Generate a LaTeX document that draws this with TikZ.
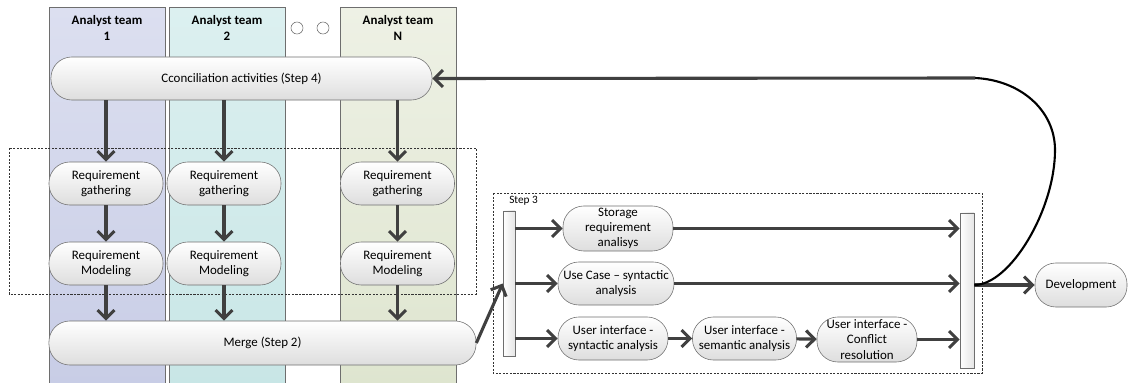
\documentclass[tikz,border=0pt]{standalone}
\usepackage{fontspec}
\setmainfont{Carlito}
\usepackage{tikz}
\usetikzlibrary{arrows,arrows.meta,shapes,positioning}
\usepackage{xcolor}
\definecolor{arrgray}{RGB}{64,64,64}
\definecolor{edgegray}{RGB}{110,110,110}
\definecolor{laneAtop}{RGB}{220,223,240}
\definecolor{laneAbot}{RGB}{200,205,230}
\definecolor{laneBtop}{RGB}{220,240,240}
\definecolor{laneBbot}{RGB}{200,230,230}
\definecolor{laneNtop}{RGB}{238,241,229}
\definecolor{laneNbot}{RGB}{222,229,207}
\newcommand{\nodefont}{\fontsize{9.2pt}{10.8pt}\selectfont}
\tikzstyle{arrow} = [line width=2.2pt,-{Straight Barb[length=6pt,width=12pt]},color=arrgray]
\tikzstyle{feedback} = [line width=1.5pt,color=black]
\tikzstyle{lane} = [draw=edgegray, thin]
\tikzstyle{lanehead} = [align=center, font=\nodefont\bfseries]
\tikzstyle{actbox} = [rectangle, rounded corners=0.52cm, draw=edgegray, thin, top color=white, bottom color=black!13, minimum height=1.075cm, inner xsep=0pt, inner ysep=0pt, align=center, font=\nodefont]
\tikzstyle{syncbar} = [rectangle, draw=edgegray, thin, left color=white, right color=black!10, inner sep=0pt]
\tikzstyle{groupbox} = [draw=black!80, thin, dash pattern=on 1.5pt off 1pt]

\begin{document}
\begin{tikzpicture}[x=0.025cm,y=-0.025cm]
\useasboundingbox (0,0) rectangle (1129,382);

% Analyst team lanes
\draw[lane, top color=laneAtop, bottom color=laneAbot] (49,7) rectangle (165,386);
\draw[lane, top color=laneBtop, bottom color=laneBbot] (169,7) rectangle (285,386);
\draw[lane, top color=laneNtop, bottom color=laneNbot] (340,7) rectangle (456,386);
\node[lanehead] (head1) at (107,28) {Analyst team\\1};
\node[lanehead] (head2) at (227,28) {Analyst team\\2};
\node[lanehead] (headN) at (398,28) {Analyst team\\N};
\node[circle, draw=edgegray, fill=white, minimum size=0.3cm, inner sep=0pt] (dot1) at (297,28) {};
\node[circle, draw=edgegray, fill=white, minimum size=0.3cm, inner sep=0pt] (dot2) at (323,28) {};

% Dashed groups
\draw[groupbox] (9,148) rectangle (476,294);
\draw[groupbox] (493,193) rectangle (982,373);
\node[anchor=west, font=\fontsize{8pt}{9pt}\selectfont, inner sep=0pt] (step3) at (509,201) {Step 3};

% Conciliation
\node[actbox, minimum width=9.525cm] (concil) at (241.5,78.5) {Cconciliation activities (Step 4)};

% Requirement gathering and modeling
\node[actbox, minimum width=2.85cm] (gath1) at (106,183.5) {Requirement\\gathering};
\node[actbox, minimum width=2.85cm] (gath2) at (224,183.5) {Requirement\\gathering};
\node[actbox, minimum width=2.85cm] (gathN) at (397.5,183.5) {Requirement\\gathering};
\node[actbox, minimum width=2.85cm] (model1) at (106,263.5) {Requirement\\Modeling};
\node[actbox, minimum width=2.85cm] (model2) at (224,263.5) {Requirement\\Modeling};
\node[actbox, minimum width=2.85cm] (modelN) at (397.5,263.5) {Requirement\\Modeling};

% Merge
\node[actbox, minimum width=10.675cm, minimum height=1.1cm] (merge) at (262.5,343) {Merge (Step 2)};

% Step 3 analysis
\node[syncbar, minimum width=0.3cm, minimum height=3.625cm] (lbar) at (509,283.5) {};
\node[syncbar, minimum width=0.35cm, minimum height=3.875cm] (rbar) at (967,290.5) {};
\node[actbox, minimum width=2.75cm, minimum height=1.125cm] (storage) at (618,228.5) {Storage\\requirement\\analisys};
\node[actbox, minimum width=2.9cm] (usecase) at (616,283.5) {Use Case -- syntactic\\analysis};
\node[actbox, minimum width=2.75cm] (uisyn) at (613,338.5) {User interface -\\syntactic analysis};
\node[actbox, minimum width=2.6cm] (uisem) at (744.5,338.5) {User interface -\\semantic analysis};
\node[actbox, minimum width=2.5cm, minimum height=1.125cm] (uiconf) at (867,339.5) {User interface -\\Conflict\\resolution};

% Development
\node[actbox, minimum width=2.3cm, minimum height=1.1cm] (dev) at (1081,285) {Development};

% Arrows
\draw[arrow] (gath1 |- concil.south) -- (gath1);
\draw[arrow] (gath2 |- concil.south) -- (gath2);
\draw[arrow] (gathN |- concil.south) -- (gathN);
\draw[arrow] (gath1) -- (model1);
\draw[arrow] (gath2) -- (model2);
\draw[arrow] (gathN) -- (modelN);
\draw[arrow] (model1) -- (model1 |- merge.north);
\draw[arrow] (model2) -- (model2 |- merge.north);
\draw[arrow] (modelN) -- (modelN |- merge.north);
\draw[arrow] (merge.east) -- (lbar.west |- usecase);
\draw[arrow] (lbar.east |- storage) -- (storage);
\draw[arrow] (lbar.east |- usecase) -- (usecase);
\draw[arrow] (lbar.east |- uisyn) -- (uisyn);
\draw[arrow] (storage) -- (rbar.west |- storage);
\draw[arrow] (usecase) -- (rbar.west |- usecase);
\draw[arrow] (uisyn) -- (uisem);
\draw[arrow] (uisem) -- (uiconf);
\draw[arrow] (uiconf) -- (rbar.west |- uiconf);
\draw[arrow] (rbar.east |- dev) -- (dev);

% Feedback to conciliation
\coordinate (turn) at (975,78);
\draw[feedback] (rbar.east |- dev) .. controls (1010,285) and (1055,210) .. (1055,150) .. controls (1055,110) and (1020,80) .. (turn);
\draw[arrow] (turn) -- (concil.east);
\end{tikzpicture}
\end{document}
